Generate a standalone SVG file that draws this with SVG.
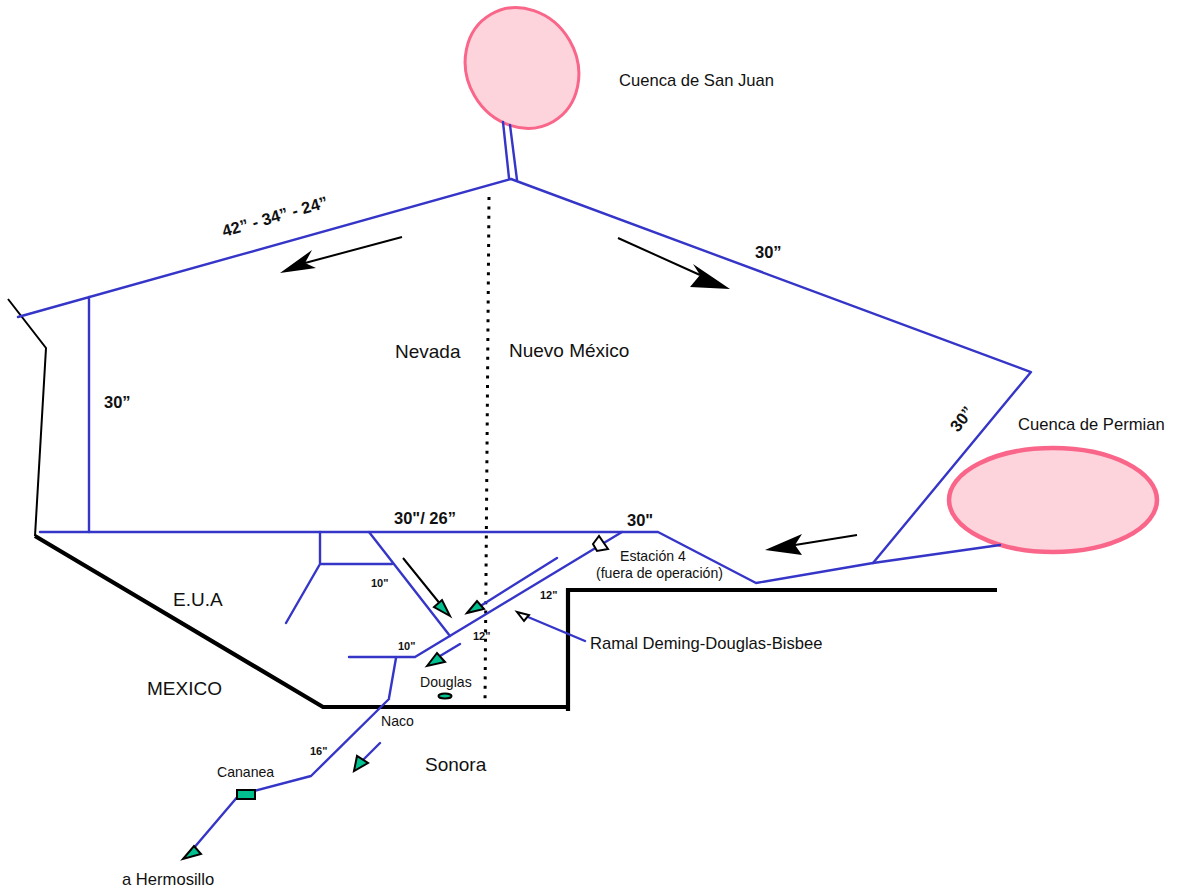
<svg xmlns="http://www.w3.org/2000/svg" width="1185" height="892" viewBox="0 0 1185 892">
<style>
text{font-family:"Liberation Sans",Arial,sans-serif;fill:#111}
.p{fill:none;stroke:#3535c8;stroke-width:2.400;stroke-linecap:round;stroke-linejoin:round}
.k{fill:none;stroke:#000;stroke-width:2}
.b{fill:none;stroke:#000;stroke-width:4.200;stroke-linejoin:miter}
.g{fill:#00c08f;stroke:#000;stroke-width:2}
.l{font-size:19px}.t{font-size:16.600px}.s{font-size:14.100px}.n{font-size:11px;font-weight:bold}.m{font-size:16.500px;font-weight:bold}
</style>
<rect width="1185" height="892" fill="#fff"/>
<g id="borders">
<path class="k" d="M8 299L46 348L35 536"/>
<path class="b" d="M35 536L323 707H569"/>
<path class="b" d="M568 711V590H997"/>
<path d="M489 197L485 703" fill="none" stroke="#000" stroke-width="3" stroke-dasharray="3 6.400"/>
</g>
<g id="basin-san-juan"><ellipse cx="522" cy="68" rx="62" ry="55" transform="rotate(60 522 68)" fill="#fdd3dc" stroke="#f9668a" stroke-width="3"/></g>
<g id="basin-permian"><ellipse cx="1053" cy="500" rx="104" ry="52" fill="#fdd3dc" stroke="#f9668a" stroke-width="4.500"/></g>
<g id="connectors">
<path class="p" d="M503 122L509 178M510 125L517 180"/>
<path class="p" d="M18 317L511 179L1031 372L873 563M89 297V532"/>
<path class="p" d="M40 532H658L756 583L873 563L1000 545"/>
<path class="p" d="M622 532L415 657H349M396 658L389 698M389 699L311 776L239 795L193 849"/>
<path class="p" d="M320 532V564H392M320 564L286 623M369 532L450 636"/>
<path class="p" d="M557 558L482 605M460 644L440 656M380 743L363 760M585 641L528 617"/>
<path class="k" d="M402 237L305 263M618 238L700 275M857 535L795 545M403 558L441 605"/>
</g>
<g id="arrowheads">
<path d="M280 273L312 250L305 263L316 268Z" fill="#000"/>
<path d="M730 289L690 287L700 275L693 264Z" fill="#000"/>
<path d="M765 550L802 534L795 545L802 555Z" fill="#000"/>
<path class="g" d="M450 616L434 607L442 600Z"/>
<path class="g" d="M467 613L477 601L484 609Z"/>
<path class="g" d="M427 666L437 653L445 662Z"/>
<path class="g" d="M354 771L357 756L368 763Z"/>
<path class="g" d="M183 859L194 846L201 854Z"/>
<path d="M517 612L529 615L524 621Z" fill="#fff" stroke="#000" stroke-width="2"/>
</g>
<g id="station-4"><path d="M593 544L599 536L608 549L597 551Z" fill="#fff" stroke="#000" stroke-width="2"/></g>
<g id="douglas"><ellipse cx="445" cy="696" rx="6.500" ry="2.500" class="g"/></g>
<g id="cananea"><rect x="237" y="790" width="18" height="9" class="g"/></g>
<g id="labels">
<text x="619" y="86" class="t">Cuenca de San Juan</text>
<text x="1018" y="430" class="t">Cuenca de Permian</text>
<text x="395" y="358" class="l">Nevada</text>
<text x="509" y="357" class="l">Nuevo México</text>
<text x="173" y="606" class="l">E.U.A</text>
<text x="147" y="695" class="l">MEXICO</text>
<text x="425" y="771" class="l">Sonora</text>
<text x="590" y="649" class="t">Ramal Deming-Douglas-Bisbee</text>
<text x="620" y="561" class="s">Estación 4</text>
<text x="596" y="578" class="s">(fuera de operación)</text>
<text x="420" y="687" class="s">Douglas</text>
<text x="381" y="726" class="s">Naco</text>
<text x="217" y="777" class="s">Cananea</text>
<text x="122" y="885" class="t">a Hermosillo</text>
<text x="104" y="408" class="m">30”</text>
<text x="755" y="258" class="m">30”</text>
<text x="394" y="524" class="m">30"/ 26”</text>
<text x="627" y="526" class="m">30"</text>
<text transform="translate(224 237) rotate(-16)" class="m">42” - 34” - 24”</text>
<text transform="translate(958 433) rotate(-52)" class="m">30”</text>
<text x="371" y="587" class="n">10"</text>
<text x="398" y="650" class="n">10"</text>
<text x="473" y="640" class="n">12"</text>
<text x="540" y="599" class="n">12"</text>
<text x="310" y="755" class="n">16"</text>
</g>
</svg>
